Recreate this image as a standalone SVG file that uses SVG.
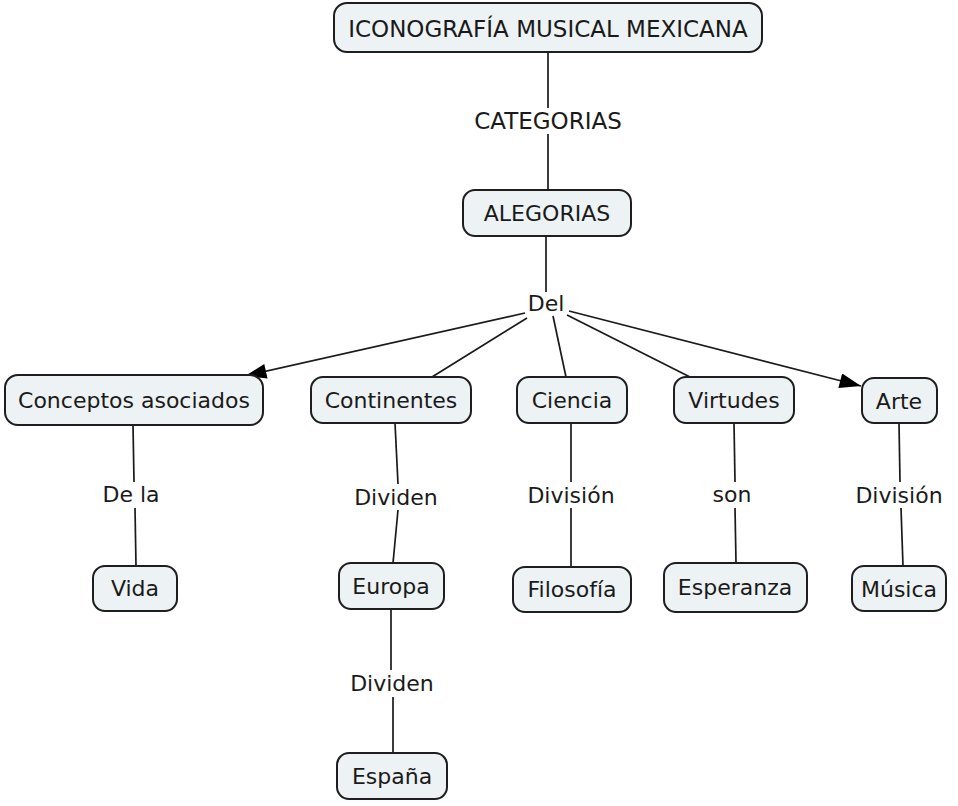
<svg xmlns="http://www.w3.org/2000/svg" width="958" height="806" viewBox="0 0 958 806">
<style>
.n rect{fill:#edf2f4;stroke:#1e1e1e;stroke-width:2}
.n text,.l{font-family:"DejaVu Sans",Verdana,sans-serif;font-size:22px;fill:#1a1a1a;text-anchor:middle;dominant-baseline:central}
.big{font-size:23px}
.n text.big,.l.big{font-size:23px}
.c line{stroke:#1a1a1a;stroke-width:1.7}
</style>
<defs>
<marker id="ahb" viewBox="0 0 20 14" refX="20" refY="7" markerWidth="22" markerHeight="15" markerUnits="userSpaceOnUse" orient="auto">
<path d="M0,0 L20,7 L0,14 z" fill="#000"/>
</marker>
</defs>
<rect width="958" height="806" fill="#fff"/>
<g class="c" id="connectors">
<line x1="548" y1="52" x2="548" y2="108"/>
<line x1="548" y1="134" x2="548" y2="190"/>
<line x1="546" y1="236" x2="546" y2="292"/>
<line x1="525" y1="313" x2="245" y2="376" marker-end="url(#ahb)"/>
<line x1="527" y1="318" x2="432" y2="377"/>
<line x1="553" y1="316" x2="566" y2="377"/>
<line x1="567" y1="315" x2="690" y2="377"/>
<line x1="569" y1="311" x2="861" y2="386" marker-end="url(#ahb)"/>
<line x1="133" y1="425" x2="134" y2="482"/>
<line x1="135" y1="508" x2="136" y2="566"/>
<line x1="395" y1="423" x2="398" y2="484"/>
<line x1="398" y1="510" x2="393" y2="563"/>
<line x1="391" y1="609" x2="391" y2="670"/>
<line x1="393" y1="697" x2="393" y2="753"/>
<line x1="571" y1="423" x2="571" y2="482"/>
<line x1="571" y1="508" x2="571" y2="567"/>
<line x1="734" y1="423" x2="735" y2="482"/>
<line x1="735" y1="508" x2="736" y2="563"/>
<line x1="899" y1="423" x2="900" y2="482"/>
<line x1="901" y1="508" x2="903" y2="566"/>
</g>
<g id="labels">
<text class="l big" x="548" y="121">CATEGORIAS</text>
<text class="l" x="546" y="303">Del</text>
<text class="l" x="131" y="494">De la</text>
<text class="l" x="396" y="497">Dividen</text>
<text class="l" x="571" y="495">División</text>
<text class="l" x="732" y="494">son</text>
<text class="l" x="899" y="495">División</text>
<text class="l" x="392" y="683">Dividen</text>
</g>
<g class="n" id="n-iconografia"><rect x="334" y="3" width="428" height="49" rx="13"/><text class="big" x="548" y="29">ICONOGRAFÍA MUSICAL MEXICANA</text></g>
<g class="n" id="n-alegorias"><rect x="463" y="190" width="168" height="46" rx="12"/><text x="547" y="213">ALEGORIAS</text></g>
<g class="n" id="n-conceptos"><rect x="5" y="375" width="258" height="50" rx="13"/><text x="134" y="400">Conceptos asociados</text></g>
<g class="n" id="n-continentes"><rect x="311" y="377" width="160" height="46" rx="12"/><text x="391" y="400">Continentes</text></g>
<g class="n" id="n-ciencia"><rect x="517" y="377" width="110" height="46" rx="12"/><text x="572" y="400">Ciencia</text></g>
<g class="n" id="n-virtudes"><rect x="674" y="377" width="120" height="46" rx="12"/><text x="734" y="400">Virtudes</text></g>
<g class="n" id="n-arte"><rect x="862" y="378" width="75" height="45" rx="12"/><text x="899" y="401">Arte</text></g>
<g class="n" id="n-vida"><rect x="93" y="566" width="84" height="45" rx="12"/><text x="135" y="588">Vida</text></g>
<g class="n" id="n-europa"><rect x="339" y="563" width="105" height="46" rx="12"/><text x="391" y="586">Europa</text></g>
<g class="n" id="n-filosofia"><rect x="513" y="567" width="118" height="45" rx="12"/><text x="572" y="589">Filosofía</text></g>
<g class="n" id="n-esperanza"><rect x="664" y="563" width="143" height="49" rx="12"/><text x="735" y="587">Esperanza</text></g>
<g class="n" id="n-musica"><rect x="852" y="566" width="94" height="45" rx="12"/><text x="899" y="589">Música</text></g>
<g class="n" id="n-espana"><rect x="337" y="753" width="110" height="46" rx="12"/><text x="392" y="776">España</text></g>
</svg>
